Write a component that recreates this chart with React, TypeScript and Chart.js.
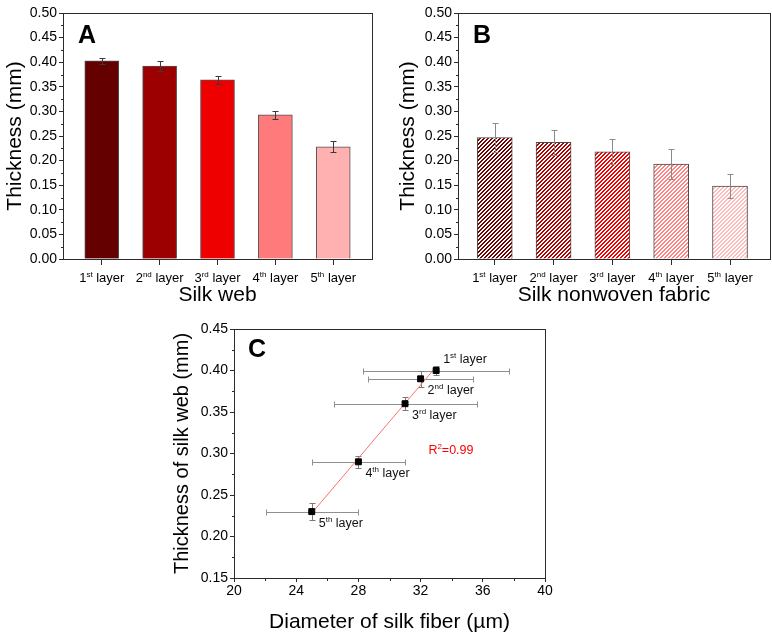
import React, { useEffect, useRef } from "react";
import { Chart, registerables } from "chart.js";

Chart.register(...registerables);

const FONT = '"Liberation Sans", Arial, Helvetica, sans-serif';
const AXIS = "#2b2b2b";

// ---------- data ----------
const layerNumbers = ["1", "2", "3", "4", "5"];
const layerSuffixes = ["st", "nd", "rd", "th", "th"];
const layerPositions = [1, 2, 3, 4, 5];

// Panel A: silk web thickness (mm)
const webThickness = [0.403, 0.392, 0.364, 0.293, 0.228];
const webThicknessErr = [0.006, 0.010, 0.008, 0.008, 0.011];

// Panel B: silk nonwoven fabric thickness (mm)
const fabricThickness = [0.247, 0.237, 0.218, 0.193, 0.148];
const fabricThicknessErr = [0.029, 0.025, 0.025, 0.030, 0.025];

// Panel C: fiber diameter (µm) vs web thickness (mm)
const fiberDiameter = [33, 32, 31, 28, 25];
const fiberDiameterErr = [4.7, 3.4, 4.6, 3.0, 2.95];
const webThicknessC = [0.40, 0.39, 0.36, 0.29, 0.23];
const webThicknessCErr = [0.005, 0.010, 0.008, 0.007, 0.010];
const rSquaredText = "=0.99";

// tick labels
const thicknessTicks = [0, 0.05, 0.1, 0.15, 0.2, 0.25, 0.3, 0.35, 0.4, 0.45, 0.5];
const panelCYTicks = [0.15, 0.2, 0.25, 0.3, 0.35, 0.4, 0.45];
const panelCXTicks = [20, 24, 28, 32, 36, 40];

// colours
const barColors = ["#650000", "#9c0000", "#ee0000", "#ff7a7a", "#ffb1b1"];
const hatchColors = ["#6e0000", "#b00000", "#f50000", "#ff8585", "#ffbcbc"];

// ---------- helpers ----------
function drawSup(
  ctx: CanvasRenderingContext2D,
  x: number,
  y: number,
  base: string,
  sup: string,
  rest: string,
  size: number,
  align: "left" | "center",
  color: string
) {
  const f = `${size}px ${FONT}`;
  const fs = `${Math.round(size * 0.64)}px ${FONT}`;
  ctx.save();
  ctx.font = f;
  const w1 = ctx.measureText(base).width;
  const w3 = ctx.measureText(rest).width;
  ctx.font = fs;
  const w2 = ctx.measureText(sup).width;
  const total = w1 + w2 + w3;
  const sx = align === "center" ? x - total / 2 : x;
  ctx.textBaseline = "alphabetic";
  ctx.textAlign = "left";
  ctx.fillStyle = color;
  ctx.font = f;
  ctx.fillText(base, sx, y);
  ctx.font = fs;
  ctx.fillText(sup, sx + w1, y - size * 0.38);
  ctx.font = f;
  ctx.fillText(rest, sx + w1 + w2, y);
  ctx.restore();
}

function drawFrame(c: any) {
  const { left, top, right, bottom } = c.chartArea;
  const ctx: CanvasRenderingContext2D = c.ctx;
  ctx.save();
  ctx.strokeStyle = AXIS;
  ctx.lineWidth = 1;
  const l = Math.round(left) + 0.5;
  const t = Math.round(top) + 0.5;
  ctx.strokeRect(l, t, Math.round(right) - Math.round(left), Math.round(bottom) - Math.round(top));
  ctx.restore();
}

function drawMinorY(c: any, ticks: number[], len: number) {
  const ys = c.scales.y;
  const x0 = Math.round(c.chartArea.left) + 0.5;
  const ctx: CanvasRenderingContext2D = c.ctx;
  ctx.save();
  ctx.strokeStyle = AXIS;
  ctx.lineWidth = 1;
  ctx.beginPath();
  for (let i = 0; i < ticks.length - 1; i++) {
    const py = Math.round(ys.getPixelForValue((ticks[i] + ticks[i + 1]) / 2)) + 0.5;
    ctx.moveTo(x0 - len, py);
    ctx.lineTo(x0, py);
  }
  ctx.stroke();
  ctx.restore();
}

function drawMinorX(c: any, ticks: number[], len: number) {
  const xs = c.scales.x;
  const y0 = Math.round(c.chartArea.bottom) + 0.5;
  const ctx: CanvasRenderingContext2D = c.ctx;
  ctx.save();
  ctx.strokeStyle = AXIS;
  ctx.lineWidth = 1;
  ctx.beginPath();
  for (let i = 0; i < ticks.length - 1; i++) {
    const px = Math.round(xs.getPixelForValue((ticks[i] + ticks[i + 1]) / 2)) + 0.5;
    ctx.moveTo(px, y0);
    ctx.lineTo(px, y0 + len);
  }
  ctx.stroke();
  ctx.restore();
}

function drawYErr(c: any, xv: number[], yv: number[], ev: number[], color: string, cap: number) {
  const xs = c.scales.x;
  const ys = c.scales.y;
  const ctx: CanvasRenderingContext2D = c.ctx;
  ctx.save();
  ctx.strokeStyle = color;
  ctx.lineWidth = 1;
  ctx.beginPath();
  for (let i = 0; i < xv.length; i++) {
    const px = Math.round(xs.getPixelForValue(xv[i])) + 0.5;
    const t = Math.round(ys.getPixelForValue(yv[i] + ev[i])) + 0.5;
    const b = Math.round(ys.getPixelForValue(yv[i] - ev[i])) + 0.5;
    ctx.moveTo(px, t);
    ctx.lineTo(px, b);
    ctx.moveTo(px - cap / 2, t);
    ctx.lineTo(px + cap / 2, t);
    ctx.moveTo(px - cap / 2, b);
    ctx.lineTo(px + cap / 2, b);
  }
  ctx.stroke();
  ctx.restore();
}

function drawXErr(c: any, xv: number[], yv: number[], ev: number[], color: string, cap: number) {
  const xs = c.scales.x;
  const ys = c.scales.y;
  const ctx: CanvasRenderingContext2D = c.ctx;
  ctx.save();
  ctx.strokeStyle = color;
  ctx.lineWidth = 1;
  ctx.beginPath();
  for (let i = 0; i < xv.length; i++) {
    const py = Math.round(ys.getPixelForValue(yv[i])) + 0.5;
    const l = Math.round(xs.getPixelForValue(xv[i] - ev[i])) + 0.5;
    const r = Math.round(xs.getPixelForValue(xv[i] + ev[i])) + 0.5;
    ctx.moveTo(l, py);
    ctx.lineTo(r, py);
    ctx.moveTo(l, py - cap / 2);
    ctx.lineTo(l, py + cap / 2);
    ctx.moveTo(r, py - cap / 2);
    ctx.lineTo(r, py + cap / 2);
  }
  ctx.stroke();
  ctx.restore();
}

function drawLetter(c: any, letter: string, dx: number, dy: number) {
  const ctx: CanvasRenderingContext2D = c.ctx;
  ctx.save();
  ctx.font = `bold 25px ${FONT}`;
  ctx.fillStyle = "#000";
  ctx.textAlign = "left";
  ctx.textBaseline = "alphabetic";
  ctx.fillText(letter, c.chartArea.left + dx, c.chartArea.top + dy);
  ctx.restore();
}

function hatch(color: string): CanvasPattern {
  const cv = document.createElement("canvas");
  cv.width = 4;
  cv.height = 4;
  const g = cv.getContext("2d")!;
  g.fillStyle = "#ffffff";
  g.fillRect(0, 0, 4, 4);
  g.fillStyle = color;
  for (let i = 0; i < 4; i++) {
    g.fillRect(i, 3 - i, 1, 1);
    g.fillRect(i, (4 - i) % 4, 1, 1);
  }
  return g.createPattern(cv, "repeat")!;
}

function setTicks(arr: number[]) {
  return (scale: any) => {
    scale.ticks = arr.map((v) => ({ value: v }));
  };
}

type BarPanel = {
  canvas: HTMLCanvasElement;
  values: number[];
  errors: number[];
  fills: (string | CanvasPattern)[];
  borderColor: string;
  errColor: string;
  xTitle: string;
  letter: string;
  yWidth: number;
  xHeight: number;
  padding: { left: number; top: number; right: number; bottom: number };
  xMin: number;
  xMax: number;
  yTitlePad: number;
  barThickness: number;
};

function makeBarChart(p: BarPanel) {
  const decor = {
    id: "panelDecor",
    afterDatasetsDraw(c: any) {
      drawYErr(c, layerPositions, p.values, p.errors, p.errColor, 6);
    },
    afterDraw(c: any) {
      drawFrame(c);
      drawMinorY(c, thicknessTicks, 2.5);
      const xs = c.scales.x;
      for (let i = 0; i < layerPositions.length; i++) {
        drawSup(
          c.ctx,
          xs.getPixelForValue(layerPositions[i]),
          c.chartArea.bottom + 22.5,
          layerNumbers[i],
          layerSuffixes[i],
          " layer",
          13,
          "center",
          "#000"
        );
      }
      drawLetter(c, p.letter, 15, 30);
    },
  };
  return new Chart(p.canvas, {
    type: "bar",
    data: {
      datasets: [
        {
          data: layerPositions.map((x, i) => ({ x, y: p.values[i] })) as any,
          backgroundColor: p.fills as any,
          borderColor: p.borderColor,
          borderWidth: 1,
          barThickness: p.barThickness,
        },
      ],
    },
    options: {
      responsive: false,
      animation: false,
      events: [],
      layout: { padding: p.padding },
      plugins: { legend: { display: false }, tooltip: { enabled: false } },
      scales: {
        x: {
          type: "linear",
          min: p.xMin,
          max: p.xMax,
          offset: false,
          afterBuildTicks: setTicks(layerPositions),
          afterFit: (s: any) => {
            s.height = p.xHeight;
          },
          grid: {
            offset: false,
            drawOnChartArea: false,
            drawTicks: true,
            tickLength: 6,
            tickColor: AXIS,
          },
          border: { display: false },
          ticks: { display: false },
          title: {
            display: true,
            text: p.xTitle,
            color: "#000",
            font: { family: FONT, size: 21 },
            padding: { top: 0, bottom: 2 },
          },
        },
        y: {
          type: "linear",
          min: 0,
          max: 0.5,
          afterBuildTicks: setTicks(thicknessTicks),
          afterFit: (s: any) => {
            s.width = p.yWidth;
          },
          grid: {
            drawOnChartArea: false,
            drawTicks: true,
            tickLength: 4,
            tickColor: AXIS,
          },
          border: { display: false },
          ticks: {
            padding: 2,
            color: "#000",
            font: { family: FONT, size: 14 },
            callback: (v: any) => Number(v).toFixed(2),
          },
          title: {
            display: true,
            text: "Thickness (mm)",
            color: "#000",
            font: { family: FONT, size: 21 },
            padding: { top: p.yTitlePad, bottom: 0 },
          },
        },
      },
    } as any,
    plugins: [decor],
  });
}

function fitLine(xv: number[], yv: number[]) {
  const n = xv.length;
  const mx = xv.reduce((a, b) => a + b, 0) / n;
  const my = yv.reduce((a, b) => a + b, 0) / n;
  let sxy = 0;
  let sxx = 0;
  for (let i = 0; i < n; i++) {
    sxy += (xv[i] - mx) * (yv[i] - my);
    sxx += (xv[i] - mx) * (xv[i] - mx);
  }
  const slope = sxy / sxx;
  const x0 = Math.min(...xv);
  const x1 = Math.max(...xv);
  return [
    { x: x0, y: my + slope * (x0 - mx) },
    { x: x1, y: my + slope * (x1 - mx) },
  ];
}

function makeScatterChart(canvas: HTMLCanvasElement) {
  const decor = {
    id: "panelDecor",
    beforeDatasetsDraw(c: any) {
      drawXErr(c, fiberDiameter, webThicknessC, fiberDiameterErr, "#8f8f8f", 6);
      drawYErr(c, fiberDiameter, webThicknessC, webThicknessCErr, "#7a7a7a", 6);
    },
    afterDraw(c: any) {
      drawFrame(c);
      drawMinorY(c, panelCYTicks, 2.5);
      drawMinorX(c, panelCXTicks, 2.5);
      const xs = c.scales.x;
      const ys = c.scales.y;
      for (let i = 0; i < fiberDiameter.length; i++) {
        const px = xs.getPixelForValue(fiberDiameter[i]);
        const py = ys.getPixelForValue(webThicknessC[i]);
        const above = i === 0;
        drawSup(
          c.ctx,
          px + 7,
          above ? py - 8 : py + 15,
          layerNumbers[i],
          layerSuffixes[i],
          " layer",
          12.5,
          "left",
          "#111"
        );
      }
      drawSup(
        c.ctx,
        xs.getPixelForValue(32.5),
        ys.getPixelForValue(0.3),
        "R",
        "2",
        rSquaredText,
        12.5,
        "left",
        "#ff0000"
      );
      drawLetter(c, "C", 14, 28);
    },
  };
  return new Chart(canvas, {
    type: "scatter",
    data: {
      datasets: [
        {
          data: fiberDiameter.map((x, i) => ({ x, y: webThicknessC[i] })),
          pointStyle: "rect",
          pointRadius: 4.2,
          backgroundColor: "#000",
          borderColor: "#000",
          borderWidth: 1,
          showLine: false,
        },
        {
          type: "line",
          data: fitLine(fiberDiameter, webThicknessC),
          borderColor: "#ff7070",
          borderWidth: 1,
          pointRadius: 0,
          fill: false,
        },
      ],
    },
    options: {
      responsive: false,
      animation: false,
      events: [],
      layout: { padding: { left: 0, top: 19, right: 15, bottom: 0 } },
      plugins: { legend: { display: false }, tooltip: { enabled: false } },
      scales: {
        x: {
          type: "linear",
          min: 20,
          max: 40,
          afterBuildTicks: setTicks(panelCXTicks),
          afterFit: (s: any) => {
            s.height = 59;
          },
          grid: { drawOnChartArea: false, drawTicks: true, tickLength: 4, tickColor: AXIS },
          border: { display: false },
          ticks: {
            padding: 1,
            color: "#000",
            maxRotation: 0,
            font: { family: FONT, size: 14 },
            callback: (v: any) => String(v),
          },
          title: {
            display: true,
            text: "Diameter of silk fiber (µm)",
            color: "#000",
            font: { family: FONT, size: 21 },
            padding: { top: 0, bottom: 2 },
          },
        },
        y: {
          type: "linear",
          min: 0.15,
          max: 0.45,
          afterBuildTicks: setTicks(panelCYTicks),
          afterFit: (s: any) => {
            s.width = 74;
          },
          grid: { drawOnChartArea: false, drawTicks: true, tickLength: 4, tickColor: AXIS },
          border: { display: false },
          ticks: {
            padding: 2,
            color: "#000",
            font: { family: FONT, size: 14 },
            callback: (v: any) => Number(v).toFixed(2),
          },
          title: {
            display: true,
            text: "Thickness of silk web (mm)",
            color: "#000",
            font: { family: FONT, size: 20 },
            padding: { top: 10, bottom: 0 },
          },
        },
      },
    } as any,
    plugins: [decor],
  });
}

export default function App() {
  const refA = useRef<HTMLCanvasElement>(null);
  const refB = useRef<HTMLCanvasElement>(null);
  const refC = useRef<HTMLCanvasElement>(null);

  useEffect(() => {
    const charts: Chart[] = [];
    if (refA.current) {
      charts.push(
        makeBarChart({
          canvas: refA.current,
          values: webThickness,
          errors: webThicknessErr,
          fills: barColors,
          borderColor: "#505050",
          errColor: "#3a3a3a",
          xTitle: "Silk web",
          letter: "A",
          yWidth: 63,
          xHeight: 51,
          padding: { left: 0, top: 13, right: 18, bottom: 0 },
          xMin: 0.33,
          xMax: 5.67,
          yTitlePad: 3,
          barThickness: 34,
        })
      );
    }
    if (refB.current) {
      charts.push(
        makeBarChart({
          canvas: refB.current,
          values: fabricThickness,
          errors: fabricThicknessErr,
          fills: hatchColors.map(hatch),
          borderColor: "#4a4a4a",
          errColor: "#8a8a8a",
          xTitle: "Silk nonwoven fabric",
          letter: "B",
          yWidth: 68,
          xHeight: 51,
          padding: { left: 0, top: 13, right: 2, bottom: 0 },
          xMin: 0.375,
          xMax: 5.68,
          yTitlePad: 6,
          barThickness: 35,
        })
      );
    }
    if (refC.current) {
      charts.push(makeScatterChart(refC.current));
    }
    return () => {
      charts.forEach((c) => c.destroy());
    };
  }, []);

  return (
    <div
      style={{
        position: "absolute",
        left: 0,
        top: 0,
        width: 772,
        height: 637,
        background: "#ffffff",
        overflow: "hidden",
      }}
    >
      <canvas ref={refA} width={390} height={310} style={{ position: "absolute", left: 0, top: 0 }} />
      <canvas ref={refB} width={382} height={310} style={{ position: "absolute", left: 390, top: 0 }} />
      <canvas ref={refC} width={400} height={327} style={{ position: "absolute", left: 160, top: 310 }} />
    </div>
  );
}
